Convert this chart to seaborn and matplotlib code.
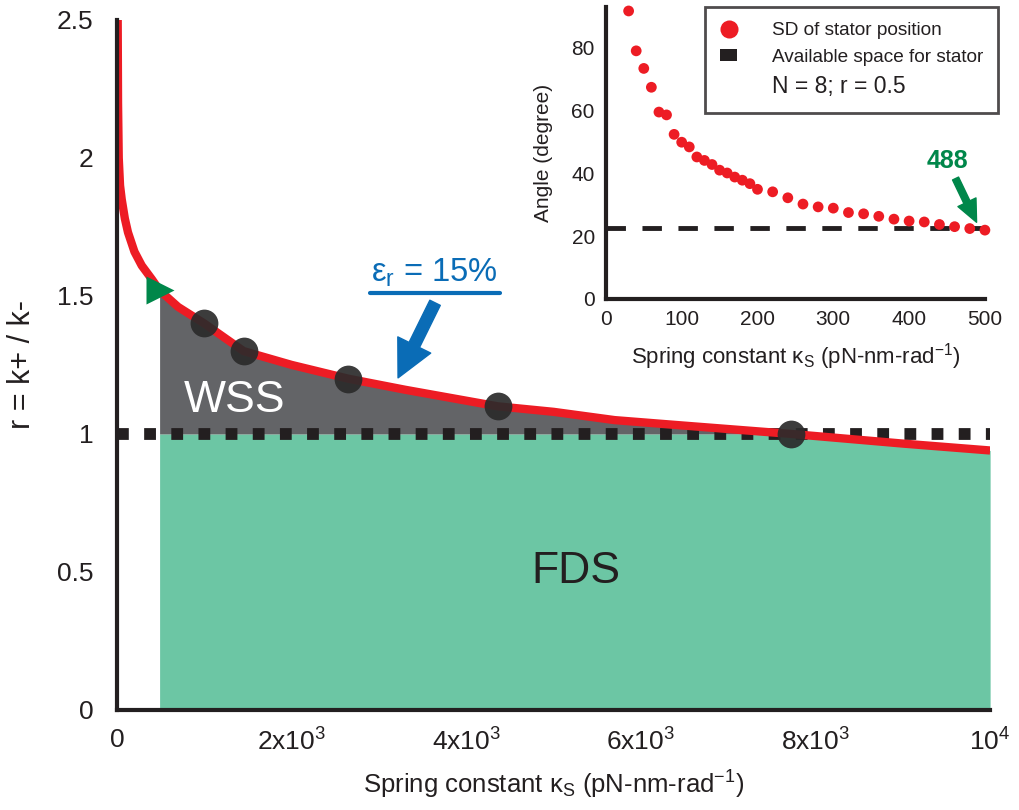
import matplotlib
matplotlib.use("Agg")
import matplotlib.pyplot as plt
from matplotlib.lines import Line2D
from matplotlib.patches import Patch
import numpy as np
import seaborn as sns

# main panel: boundary r(kappa_s) at eps_r = 15%
ks_curve = [8, 12, 20, 35, 54, 90, 126, 200, 283, 400, 488, 700, 1000, 1450, 2000,
            2650, 3300, 4360, 5000, 5700, 6500, 7720, 9000, 10000]
r_curve = [2.5, 2.2, 2.0, 1.9, 1.85, 1.78, 1.73, 1.66, 1.61, 1.56, 1.52, 1.46, 1.40, 1.30, 1.25,
           1.20, 1.16, 1.10, 1.08, 1.05, 1.03, 1.00, 0.965, 0.94]
ks_points = [1000, 1450, 2650, 4360, 7720]
r_points = [1.40, 1.30, 1.20, 1.10, 1.00]
ks_start = 488
r_start = 1.52
r_available = 1.0

x_ticks = [0, 2000, 4000, 6000, 8000, 10000]
x_ticklabels = ['0', '2x10$^{3}$', '4x10$^{3}$', '6x10$^{3}$', '8x10$^{3}$', '10$^{4}$']
y_ticks = [0, 0.5, 1, 1.5, 2, 2.5]
y_ticklabels = ['0', '0.5', '1', '1.5', '2', '2.5']

# inset: SD of stator position
ks_inset = [30, 40, 50, 60, 70, 80, 90, 100, 110, 120, 130, 140, 150, 160, 170, 180, 190, 200,
            220, 240, 260, 280, 300, 320, 340, 360, 380, 400, 420, 440, 460, 480, 500]
angle_sd = [91.7, 79.0, 73.4, 67.4, 59.5, 58.6, 52.4, 49.9, 48.4, 45.2, 44.1, 42.8, 41.0, 40.1,
            38.8, 37.8, 36.7, 34.9, 34.1, 32.2, 30.2, 29.3, 28.9, 27.5, 27.1, 26.3, 25.4, 24.8,
            24.5, 23.7, 23.0, 22.4, 21.9]
angle_available = 22.5
ks_cross = 488

RED = '#ED1C24'
GREEN = '#6CC6A4'
GRAY = '#636467'
DARK = '#231F20'
BLUE = '#0A6CB6'
DKGREEN = '#00874A'

sns.set_style("white")
plt.rcParams['font.family'] = ['Liberation Sans', 'DejaVu Sans']
plt.rcParams['mathtext.fontset'] = 'custom'
plt.rcParams['mathtext.rm'] = 'Liberation Sans'
plt.rcParams['mathtext.it'] = 'Liberation Sans:italic'
plt.rcParams['mathtext.bf'] = 'Liberation Sans:bold'

fig = plt.figure(figsize=(10.2, 8.1), dpi=100)
ax = fig.add_axes([0.1147, 0.1235, 0.856, 0.852])

ks = np.array(ks_curve)
r = np.array(r_curve)

# regions
m = ks >= ks_start
ax.fill_between(ks[m], 0, np.minimum(r[m], r_available), color=GREEN, lw=0, zorder=1)
mw = (ks >= ks_start) & (ks <= ks_points[-1])
ax.fill_between(ks[mw], r_available, r[mw], color=GRAY, lw=0, zorder=1)

ax.axhline(r_available, color=DARK, lw=8.5, dashes=(1, 1.3), dash_capstyle='butt', zorder=2)
sns.lineplot(x=ks_curve, y=r_curve, color=RED, lw=6, ax=ax, sort=False, zorder=3,
             solid_capstyle='butt')
ax.plot(ks_points, r_points, 'o', color='#2b2b2b', alpha=0.92, markersize=20, mec='none', zorder=4)
ax.plot([ks_start], [r_start], '>', color=DKGREEN, markersize=20, mec='none', zorder=5)

ax.text(1350, 1.12, 'WSS', color='white', fontsize=32, ha='center', va='center', zorder=6)
ax.text(5250, 0.50, 'FDS', color=DARK, fontsize=32, ha='center', va='center', zorder=6)
ax.text(3640, 1.585, 'ε$_\\mathrm{r}$ = 15%', color=BLUE, fontsize=23.5, ha='center', va='center')
ax.plot([2900, 4390], [1.511, 1.511], color=BLUE, lw=3)
ax.annotate('', xy=(3219, 1.203), xytext=(3643, 1.475),
            arrowprops=dict(arrowstyle='simple,head_length=1.2,head_width=1.2,tail_width=0.38',
                            color=BLUE, mutation_scale=22, shrinkA=0, shrinkB=0))

ax.set_xlim(0, 10000)
ax.set_ylim(0, 2.5)
ax.set_xticks(x_ticks)
ax.set_xticklabels(x_ticklabels, fontsize=19)
ax.set_yticks(y_ticks)
ax.set_yticklabels(y_ticklabels, fontsize=19)
ax.tick_params(direction='in', length=8, width=3, color=DARK, labelcolor=DARK)
ax.tick_params(axis='x', pad=13)
ax.tick_params(axis='y', pad=17)
ax.set_xlabel('Spring constant κ$_\\mathrm{S}$ (pN-nm-rad$^{-1}$)', fontsize=18.5, color=DARK,
              labelpad=10)
ax.set_ylabel('r = k+ / k-', fontsize=22, color=DARK, labelpad=14)
sns.despine(ax=ax)
for s in ['left', 'bottom']:
    ax.spines[s].set_linewidth(3)
    ax.spines[s].set_color(DARK)
    ax.spines[s].set_zorder(7)

# inset
ax_in = fig.add_axes([0.594, 0.631, 0.3716, 0.3605])
ax_in.patch.set_alpha(0)
sns.scatterplot(x=ks_inset, y=angle_sd, color=RED, s=60, edgecolor='none', ax=ax_in,
                clip_on=False, zorder=3)
ax_in.axhline(angle_available, color=DARK, lw=3.5, dashes=(4, 3.4), zorder=2)
ax_in.annotate('488', xy=(489, 24.4), xytext=(450, 44.0), color=DKGREEN, fontsize=18,
               fontweight='bold', ha='center', va='center',
               arrowprops=dict(arrowstyle='simple,head_length=1.0,head_width=0.9,tail_width=0.3',
                               color=DKGREEN, mutation_scale=16, shrinkA=2, shrinkB=0))
ax_in.set_xlim(0, 500)
ax_in.set_ylim(0, 93)
ax_in.set_xticks([0, 100, 200, 300, 400, 500])
ax_in.set_yticks([0, 20, 40, 60, 80])
ax_in.set_yticks([10, 30, 50, 70, 90], minor=True)
ax_in.tick_params(which='both', direction='in', length=7, width=2.5, color=DARK, labelsize=15,
                  labelcolor=DARK, pad=8)
ax_in.set_xlabel('Spring constant κ$_\\mathrm{S}$ (pN-nm-rad$^{-1}$)', fontsize=16, color=DARK,
                 labelpad=9)
ax_in.set_ylabel('Angle (degree)', fontsize=15, color=DARK, labelpad=13)
sns.despine(ax=ax_in)
for s in ['left', 'bottom']:
    ax_in.spines[s].set_linewidth(3)
    ax_in.spines[s].set_color(DARK)

handles = [Line2D([], [], marker='o', color=RED, ls='none', markersize=13, mec='none'),
           Patch(facecolor=DARK, edgecolor='none'),
           Line2D([], [], ls='none')]
labels = ['SD of stator position', 'Available space for stator', 'N = 8; r = 0.5']
leg = ax_in.legend(handles, labels, loc='upper right', bbox_to_anchor=(1.035, 1.0),
                   fontsize=13.7, frameon=True, fancybox=False, edgecolor=DARK,
                   handlelength=0.9, handleheight=0.55, handletextpad=1.8, borderpad=0.8,
                   labelspacing=0.5, borderaxespad=0)
leg.get_frame().set_linewidth(2)
for t in leg.get_texts():
    t.set_color(DARK)
leg.get_texts()[2].set_fontsize(16.5)

fig.savefig('out.png', dpi=100)
